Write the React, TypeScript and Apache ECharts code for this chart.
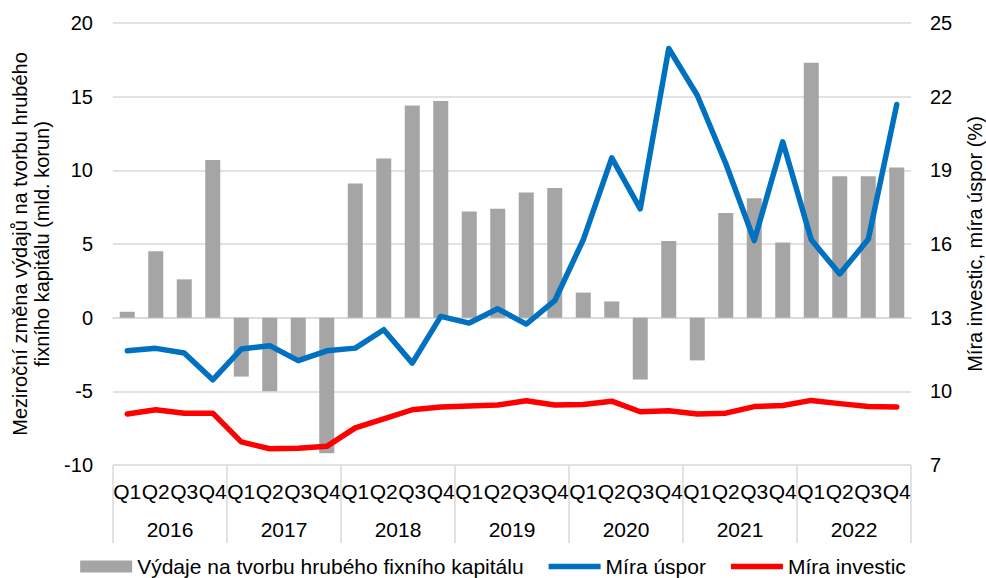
import React, { useEffect, useRef } from "react";
import * as echarts from "echarts";

const years = ["2016", "2017", "2018", "2019", "2020", "2021", "2022"];
const quarterLabels = ["Q1", "Q2", "Q3", "Q4"];
const categories: string[] = years.flatMap((y) => quarterLabels.map((q) => `${q} ${y}`));

const gfcfChange = [
  0.4, 4.5, 2.6, 10.7,
  -4.0, -5.0, -2.8, -9.2,
  9.1, 10.8, 14.4, 14.7,
  7.2, 7.4, 8.5, 8.8,
  1.7, 1.1, -4.2, 5.2,
  -2.9, 7.1, 8.1, 5.1,
  17.3, 9.6, 9.6, 10.2,
];

const savingRate = [
  11.65, 11.75, 11.56, 10.47,
  11.72, 11.86, 11.25, 11.65,
  11.76, 12.51, 11.15, 13.05,
  12.78, 13.36, 12.74, 13.69,
  16.17, 19.51, 17.43, 23.96,
  22.06, 19.28, 16.14, 20.16,
  16.17, 14.78, 16.19, 21.68,
];

const investmentRate = [
  9.08, 9.25, 9.11, 9.11,
  7.94, 7.66, 7.68, 7.76,
  8.51, 8.88, 9.25, 9.36,
  9.4, 9.44, 9.62, 9.44,
  9.46, 9.6, 9.17, 9.21,
  9.08, 9.11, 9.38, 9.42,
  9.63, 9.5, 9.38, 9.36,
];

const seriesNames = [
  "Výdaje na tvorbu hrubého fixního kapitálu",
  "Míra úspor",
  "Míra investic",
];

const FONT = "'Liberation Sans', Arial, sans-serif";
const LINE_ICON = "path://M0,0 M0,3.25 L52,3.25 L52,8.75 L0,8.75 Z M52,12";

export default function App() {
  const ref = useRef<HTMLDivElement>(null);
  useEffect(() => {
    if (!ref.current) return;
    const chart = echarts.init(ref.current, undefined, { renderer: "svg" });
    chart.setOption({
      animation: false,
      textStyle: { fontFamily: FONT, color: "#000" },
      grid: {
        left: 113,
        right: 75,
        top: 23,
        bottom: 113,
        containLabel: false,
        outerBoundsMode: "none",
      },
      legend: {
        bottom: -4,
        left: "center",
        itemGap: 25,
        itemWidth: 52,
        itemHeight: 12,
        textStyle: { fontFamily: FONT, fontSize: 21, color: "#000" },
        data: [
          { name: seriesNames[0], icon: "rect" },
          { name: seriesNames[1], icon: LINE_ICON, itemStyle: { color: "#0070c0" } },
          { name: seriesNames[2], icon: LINE_ICON, itemStyle: { color: "#ff0000" } },
        ],
      },
      xAxis: [
        {
          type: "category",
          data: categories,
          position: "bottom",
          axisLine: { show: true, lineStyle: { color: "#d9d9d9", width: 1.5 } },
          axisTick: { show: false },
          axisLabel: {
            interval: 0,
            margin: 16,
            fontSize: 21,
            color: "#000",
            fontFamily: FONT,
            formatter: (v: string) => v.split(" ")[0],
          },
          splitLine: { show: false },
        },
        {
          type: "category",
          data: years,
          position: "bottom",
          offset: 0,
          axisLine: { show: false },
          axisTick: { show: true, length: 78, interval: 0, lineStyle: { color: "#d9d9d9", width: 1.5 } },
          axisLabel: { interval: 0, margin: 54, fontSize: 21, color: "#000", fontFamily: FONT },
          splitLine: { show: false },
        },
      ],
      yAxis: [
        {
          type: "value",
          min: -10,
          max: 20,
          interval: 5,
          name: "Meziroční změna výdajů na tvorbu hrubého\nfixního kapitálu (mld. korun)",
          nameLocation: "middle",
          nameGap: 57,
          nameRotate: 90,
          nameTextStyle: { fontSize: 20, color: "#000", fontFamily: FONT, lineHeight: 22 },
          axisLine: { show: false },
          axisTick: { show: false },
          axisLabel: { fontSize: 20, color: "#000", margin: 20, fontFamily: FONT },
          splitLine: { show: true, lineStyle: { color: "#d9d9d9", width: 1.5 } },
        },
        {
          type: "value",
          min: 7,
          max: 25,
          interval: 3,
          name: "Míra investic, míra úspor (%)",
          nameLocation: "middle",
          nameGap: 54,
          nameRotate: 90,
          nameTextStyle: { fontSize: 20, color: "#000", fontFamily: FONT },
          axisLine: { show: false },
          axisTick: { show: false },
          axisLabel: { fontSize: 20, color: "#000", margin: 19, fontFamily: FONT },
          splitLine: { show: false },
        },
      ],
      series: [
        {
          name: seriesNames[0],
          type: "bar",
          data: gfcfChange,
          xAxisIndex: 0,
          yAxisIndex: 0,
          barWidth: 15,
          itemStyle: { color: "#a5a5a5" },
        },
        {
          name: seriesNames[1],
          type: "line",
          data: savingRate,
          xAxisIndex: 0,
          yAxisIndex: 1,
          symbol: "none",
          lineStyle: { color: "#0070c0", width: 5.5, join: "round", cap: "round" },
          itemStyle: { color: "#0070c0" },
        },
        {
          name: seriesNames[2],
          type: "line",
          data: investmentRate,
          xAxisIndex: 0,
          yAxisIndex: 1,
          symbol: "none",
          lineStyle: { color: "#ff0000", width: 5.5, join: "round", cap: "round" },
          itemStyle: { color: "#ff0000" },
        },
      ],
    });
    return () => chart.dispose();
  }, []);
  return <div ref={ref} style={{ width: 986, height: 578, position: "absolute", left: 0, top: 0 }} />;
}
